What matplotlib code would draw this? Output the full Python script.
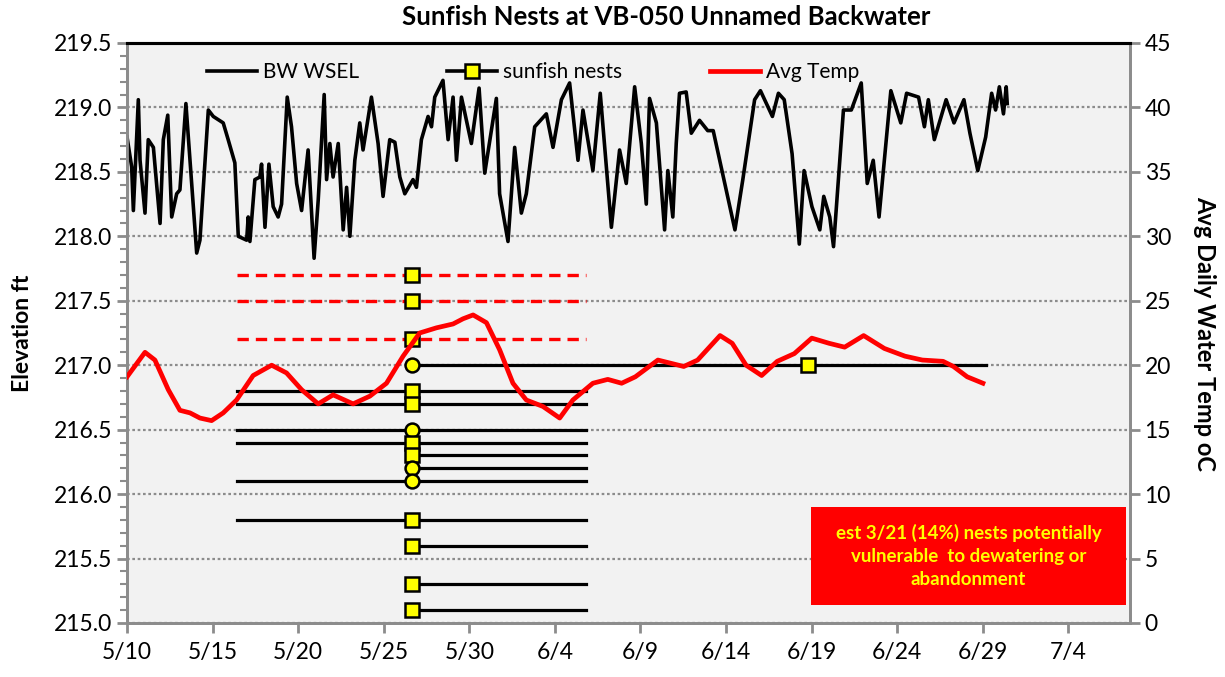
import numpy as np
import matplotlib.pyplot as plt
from matplotlib.lines import Line2D
from matplotlib.patches import Rectangle
from matplotlib.ticker import MultipleLocator

plt.rcParams['font.family'] = ['Lato', 'DejaVu Sans']

# days counted from 5/10
tick_days = [0, 5, 10, 15, 20, 25, 30, 35, 40, 45, 50, 55]
tick_labels = ['5/10', '5/15', '5/20', '5/25', '5/30', '6/4', '6/9', '6/14',
               '6/19', '6/24', '6/29', '7/4']

# backwater water surface elevation (ft)
wsel_day = [0.0, 0.27, 0.37, 0.66, 0.76, 1.05, 1.24, 1.54, 1.93, 2.12, 2.38, 2.61,
            2.90, 3.09, 3.44, 4.07, 4.26, 4.75, 5.04, 5.62, 5.91, 6.30, 6.50, 6.99,
            7.08, 7.18, 7.47, 7.76, 7.86, 8.06, 8.29, 8.54, 8.83, 9.03, 9.36, 9.61,
            9.91, 10.20, 10.58, 10.93, 11.17, 11.52, 11.66, 11.85, 12.04, 12.34, 12.63,
            12.83, 13.02, 13.31, 13.60, 13.79, 14.28, 14.67, 14.96, 15.35, 15.65, 15.94,
            16.23, 16.71, 16.91, 17.20, 17.59, 17.79, 17.98, 18.46, 18.76, 19.05, 19.25,
            19.54, 20.12, 20.57, 20.90, 21.58, 21.77, 22.26, 22.65, 23.04, 23.33, 23.82,
            24.50, 24.89, 25.38, 25.86, 26.35, 26.64, 27.22, 27.65, 28.30, 28.78, 29.17,
            29.66, 30.05, 30.34, 30.53, 30.93, 31.41, 31.60, 31.89, 32.09, 32.28, 32.67,
            32.97, 33.45, 33.93, 34.25, 35.52, 35.98, 36.67, 37.01, 37.71, 38.06, 38.40,
            38.86, 39.28, 39.56, 40.02, 40.48, 40.71, 41.06, 41.28, 41.86, 42.32, 42.90,
            43.25, 43.60, 43.94, 44.63, 45.21, 45.55, 46.25, 46.59, 46.82, 47.17, 47.86,
            48.32, 48.90, 49.25, 49.71, 50.17, 50.52, 50.75, 50.97, 51.21, 51.37, 51.43]
wsel = [218.77, 218.54, 218.20, 219.06, 218.59, 218.18, 218.75, 218.69, 218.10, 218.75,
        218.94, 218.15, 218.33, 218.36, 219.03, 217.87, 217.97, 218.98, 218.93, 218.88,
        218.75, 218.57, 218.00, 217.97, 218.15, 217.96, 218.44, 218.46, 218.56, 218.07,
        218.56, 218.23, 218.15, 218.25, 219.08, 218.85, 218.41, 218.20, 218.67, 217.83,
        218.28, 219.10, 218.44, 218.72, 218.46, 218.72, 218.05, 218.38, 218.00, 218.59,
        218.88, 218.67, 219.08, 218.72, 218.31, 218.75, 218.73, 218.46, 218.33, 218.44,
        218.38, 218.75, 218.93, 218.85, 219.08, 219.21, 218.75, 219.08, 218.59, 219.08,
        218.72, 219.15, 218.49, 219.07, 218.33, 217.96, 218.69, 218.18, 218.33, 218.85,
        218.95, 218.69, 219.06, 219.19, 218.59, 218.98, 218.51, 219.11, 218.07, 218.67,
        218.41, 219.16, 218.72, 218.25, 219.07, 218.88, 218.05, 218.51, 218.15, 218.72,
        219.11, 219.12, 218.80, 218.90, 218.82, 218.82, 218.05, 218.44, 219.06, 219.13,
        218.93, 219.11, 219.06, 218.64, 217.94, 218.51, 218.23, 218.05, 218.31, 218.15,
        217.92, 218.98, 218.98, 219.19, 218.41, 218.59, 218.15, 219.13, 218.88, 219.11,
        219.08, 218.85, 219.06, 218.75, 219.06, 218.88, 219.06, 218.80, 218.51, 218.77,
        219.11, 218.98, 219.16, 218.95, 219.16, 219.03]

# average daily water temperature (deg C)
temp_day = [0.0, 1.05, 1.63, 2.41, 3.09, 3.68, 4.26, 4.94, 5.62, 6.40, 7.37, 8.45, 9.32,
            10.20, 11.17, 12.04, 13.21, 14.19, 15.16, 16.13, 17.10, 18.08, 19.05, 19.63,
            20.22, 21.00, 21.77, 22.55, 23.33, 24.30, 25.28, 26.05, 27.22, 28.09, 28.90,
            29.70, 31.02, 32.53, 33.34, 34.65, 35.36, 36.17, 37.08, 37.99, 38.99, 40.01,
            41.02, 41.93, 43.04, 44.25, 45.46, 46.47, 47.68, 48.29, 49.09, 50.01]
temp = [19.1, 21.0, 20.4, 18.1, 16.5, 16.3, 15.9, 15.7, 16.3, 17.3, 19.2, 20.0, 19.4,
        18.1, 17.0, 17.7, 17.0, 17.6, 18.6, 20.7, 22.5, 22.9, 23.2, 23.6, 23.9, 23.3,
        21.2, 18.6, 17.3, 16.8, 15.9, 17.3, 18.6, 18.9, 18.6, 19.1, 20.4, 19.9, 20.4,
        22.3, 21.7, 20.0, 19.2, 20.3, 20.9, 22.1, 21.7, 21.4, 22.3, 21.3, 20.7, 20.4,
        20.3, 19.9, 19.1, 18.6]

# sunfish nests: elevation, line start/end day, marker day, marker shape
nest_elev = [217.7, 217.5, 217.2, 217.0, 216.8, 216.7, 216.5, 216.4, 216.3, 216.2,
             216.1, 215.8, 215.6, 215.3, 215.1]
nest_start = [6.4, 6.4, 6.4, 16.65, 6.4, 6.4, 6.4, 6.4, 16.65, 16.65, 6.4, 6.4,
              16.65, 16.65, 16.65]
nest_end = [26.8, 26.8, 26.8, 50.2, 26.8, 26.8, 26.8, 26.8, 26.8, 26.8, 26.8, 26.8,
            26.8, 26.8, 26.8]
nest_day = [16.65] * 15
nest_marker = ['s', 's', 's', 'o', 's', 's', 'o', 's', 's', 'o', 'o', 's', 's', 's', 's']
vulnerable = [True, True, True] + [False] * 12
late_nest_day = 39.8
late_nest_elev = 217.0

note = 'est 3/21 (14%) nests potentially\nvulnerable  to dewatering or\nabandonment'

fig = plt.figure(figsize=(12.25, 6.77), dpi=100)
ax = fig.add_axes([0.1037, 0.0798, 0.8187, 0.8567])
ax.set_facecolor('#F2F2F2')
ax2 = ax.twinx()

ax.plot(wsel_day, wsel, color='black', lw=2.6, zorder=3)

for i in range(len(nest_elev)):
    if vulnerable[i]:
        ax.plot([nest_start[i], nest_end[i]], [nest_elev[i]] * 2, color='#FF0000',
                lw=2.4, ls=(0, (3.4, 2.1)), zorder=3)
    else:
        ax.plot([nest_start[i], nest_end[i]], [nest_elev[i]] * 2, color='black',
                lw=2.3, zorder=3)
    ms = 10.5 if nest_marker[i] == 's' else 10
    ax.plot(nest_day[i], nest_elev[i], marker=nest_marker[i], ms=ms, mfc='#FFFF00',
            mec='black', mew=1.8, zorder=5)
ax.plot(late_nest_day, late_nest_elev, marker='s', ms=10.5, mfc='#FFFF00',
        mec='black', mew=1.8, zorder=5)

ax2.plot(temp_day, temp, color='#FF0000', lw=3.4, zorder=4, solid_joinstyle='round')

ax.set_xlim(0, 58.6)
ax.set_ylim(215.0, 219.5)
ax2.set_ylim(0, 45)
ax.set_xticks(tick_days)
ax.set_xticklabels(tick_labels)
ax.yaxis.set_major_locator(MultipleLocator(0.5))
ax.yaxis.set_minor_locator(MultipleLocator(0.1))
ax.yaxis.set_major_formatter(plt.FormatStrFormatter('%.1f'))
ax2.yaxis.set_major_locator(MultipleLocator(5))

ax.grid(axis='y', which='major', color='#8C8C8C', ls=(0, (1.2, 1.2)), lw=1.6)
ax.set_axisbelow(True)

gray = '#8C8C8C'
for a in (ax, ax2):
    for s in ('left', 'right', 'bottom'):
        a.spines[s].set_color(gray)
        a.spines[s].set_linewidth(2)
    a.spines['top'].set_color('black')
    a.spines['top'].set_linewidth(2.2)
ax.tick_params(axis='both', which='major', direction='out', length=7, width=2,
               color=gray, labelsize=16.5)
ax.tick_params(axis='y', which='minor', direction='out', length=5, width=1.5, color=gray)
ax2.tick_params(axis='y', direction='out', length=7, width=2, color=gray, labelsize=16.5)
ax.tick_params(axis='x', pad=7)

fig.text(0.5437, 0.975, 'Sunfish Nests at VB-050 Unnamed Backwater', ha='center',
         va='center', fontsize=18.5, fontweight='bold')
fig.text(0.018, 0.508, 'Elevation ft', rotation=90, ha='center', va='center',
         fontsize=16.5, fontweight='bold')
fig.text(0.983, 0.508, 'Avg Daily Water Temp oC', rotation=270, ha='center',
         va='center', fontsize=17, fontweight='bold')

ax.add_patch(Rectangle((0.682, 0.031), 0.314, 0.169, transform=ax.transAxes,
                       facecolor='#FF0000', edgecolor='none', zorder=6))
ax.text(0.839, 0.1155, note, transform=ax.transAxes, ha='center', va='center',
        color='#FFFF00', fontsize=13.5, fontweight='bold', linespacing=1.4, zorder=7)

handles = [Line2D([], [], color='black', lw=2.6),
           Line2D([], [], color='black', lw=2.6, marker='s', ms=10.5, mfc='#FFFF00',
                  mec='black', mew=1.8),
           Line2D([], [], color='#FF0000', lw=3.4)]
ax2.legend(handles, ['BW WSEL', 'sunfish nests', 'Avg Temp'], ncol=3, frameon=False,
           loc='center', bbox_to_anchor=(0.405, 0.95), fontsize=15, handlelength=2.4,
           handletextpad=0.3, columnspacing=4.2)

fig.savefig('out.png', dpi=100)
